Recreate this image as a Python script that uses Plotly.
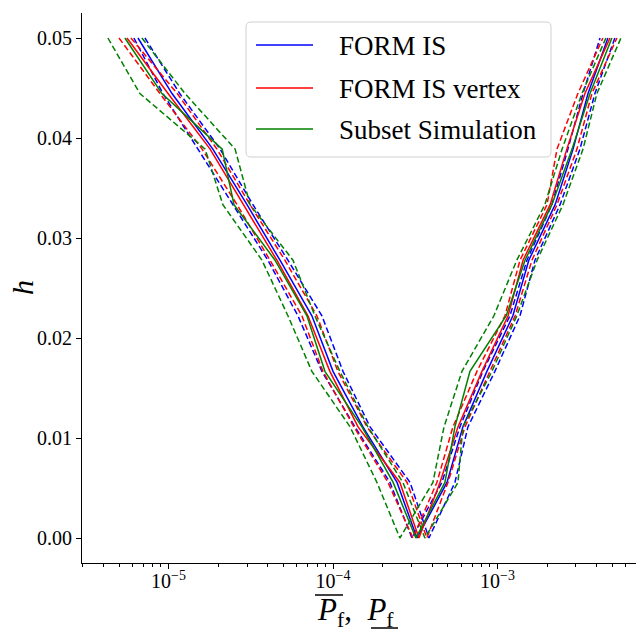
import plotly.graph_objects as go

# h levels (y axis)
H = [0.0, 0.005556, 0.011111, 0.016667, 0.022222, 0.027778, 0.033333, 0.038889, 0.044444, 0.05]

# FORM IS (blue): lower bound Pf (left branch) and upper bound Pf (right branch)
FIS_MEAN_LO = [3.24e-4, 2.45e-4, 1.52e-4, 1.00e-4, 7.44e-5, 4.76e-5, 3.00e-5, 1.86e-5, 1.05e-5, 6.52e-6]
FIS_MEAN_UP = [3.24e-4, 4.93e-4, 6.16e-4, 8.62e-4, 1.24e-3, 1.55e-3, 2.24e-3, 2.88e-3, 3.55e-3, 4.69e-3]
FIS_CIA_LO = [3.02e-4, 2.22e-4, 1.36e-4, 8.56e-5, 6.12e-5, 4.02e-5, 2.47e-5, 1.51e-5, 9.25e-6, 6.16e-6]
FIS_CIA_UP = [3.02e-4, 4.59e-4, 5.91e-4, 8.15e-4, 1.19e-3, 1.51e-3, 2.14e-3, 2.68e-3, 3.31e-3, 4.20e-3]
FIS_CIB_LO = [3.83e-4, 2.94e-4, 1.68e-4, 1.15e-4, 8.56e-5, 5.32e-5, 3.26e-5, 2.06e-5, 1.17e-5, 7.19e-6]
FIS_CIB_UP = [3.83e-4, 5.51e-4, 6.61e-4, 9.64e-4, 1.37e-3, 1.69e-3, 2.40e-3, 3.17e-3, 3.91e-3, 5.17e-3]

# FORM IS vertex (red)
VTX_MEAN_LO = [3.33e-4, 2.55e-4, 1.42e-4, 9.57e-5, 7.04e-5, 4.56e-5, 2.84e-5, 1.79e-5, 9.93e-6, 5.59e-6]
VTX_MEAN_UP = [3.33e-4, 4.47e-4, 5.75e-4, 8.04e-4, 1.16e-3, 1.43e-3, 2.09e-3, 2.64e-3, 3.40e-3, 4.83e-3]
VTX_CIA_LO = [3.06e-4, 2.16e-4, 1.34e-4, 8.68e-5, 6.47e-5, 4.14e-5, 2.61e-5, 1.60e-5, 8.87e-6, 5.00e-6]
VTX_CIA_UP = [3.06e-4, 4.28e-4, 5.36e-4, 7.50e-4, 1.11e-3, 1.37e-3, 2.00e-3, 2.30e-3, 3.08e-3, 4.37e-3]
VTX_CIB_LO = [3.72e-4, 2.82e-4, 1.61e-4, 1.07e-4, 7.98e-5, 5.10e-5, 3.13e-5, 1.97e-5, 1.13e-5, 5.91e-6]
VTX_CIB_UP = [3.72e-4, 5.00e-4, 6.34e-4, 8.99e-4, 1.28e-3, 1.62e-3, 2.30e-3, 3.04e-3, 3.75e-3, 5.32e-3]

# Subset Simulation (green)
SS_MEAN_LO = [3.19e-4, 2.32e-4, 1.50e-4, 8.93e-5, 6.94e-5, 4.44e-5, 2.50e-5, 2.12e-5, 9.12e-6, 5.43e-6]
SS_MEAN_UP = [3.19e-4, 4.79e-4, 5.51e-4, 6.80e-4, 1.13e-3, 1.47e-3, 2.14e-3, 2.84e-3, 3.65e-3, 4.96e-3]
SS_CIA_LO = [2.55e-4, 1.85e-4, 1.27e-4, 7.44e-5, 5.32e-5, 3.70e-5, 2.14e-5, 1.67e-5, 6.70e-6, 4.28e-6]
SS_CIA_UP = [2.55e-4, 4.05e-4, 4.73e-4, 6.08e-4, 9.51e-4, 1.31e-3, 1.94e-3, 2.47e-3, 3.26e-3, 4.56e-3]
SS_CIB_LO = [3.62e-4, 2.66e-4, 1.63e-4, 1.10e-4, 7.76e-5, 5.71e-5, 3.13e-5, 2.54e-5, 1.26e-5, 6.89e-6]
SS_CIB_UP = [3.62e-4, 5.75e-4, 6.16e-4, 9.25e-4, 1.31e-3, 1.74e-3, 2.50e-3, 3.31e-3, 4.02e-3, 5.63e-3]

SERIES = [
    ("FORM IS", "#0000ff", FIS_MEAN_LO, FIS_MEAN_UP, [(FIS_CIA_LO, FIS_CIA_UP), (FIS_CIB_LO, FIS_CIB_UP)]),
    ("FORM IS vertex", "#ff0000", VTX_MEAN_LO, VTX_MEAN_UP, [(VTX_CIA_LO, VTX_CIA_UP), (VTX_CIB_LO, VTX_CIB_UP)]),
    ("Subset Simulation", "#008000", SS_MEAN_LO, SS_MEAN_UP, [(SS_CIA_LO, SS_CIA_UP), (SS_CIB_LO, SS_CIB_UP)]),
]

SERIF = "Liberation Serif"

def vee(lo, up):
    return list(lo[::-1]) + list(up[1:]), list(H[::-1]) + list(H[1:])

fig = go.Figure()
for name, color, mlo, mup, cis in SERIES:
    x, y = vee(mlo, mup)
    fig.add_trace(go.Scatter(x=x, y=y, mode="lines", name=name,
                             line=dict(color=color, width=1.5), showlegend=False))
    for lo, up in cis:
        x, y = vee(lo, up)
        fig.add_trace(go.Scatter(x=x, y=y, mode="lines", name=name + " bounds",
                                 line=dict(color=color, width=1.5, dash="6px,3px"),
                                 showlegend=False))

minor_vals = [k * 10.0 ** e for e in range(-7, -1) for k in range(2, 10)]

fig.update_layout(
    width=636, height=631,
    margin=dict(l=82, r=0, t=13, b=68),
    plot_bgcolor="white", paper_bgcolor="white",
    font=dict(family=SERIF, color="black"),
    xaxis=dict(type="log", range=[-5.526, -2.158], showline=True, linecolor="black",
               linewidth=1, ticks="outside", ticklen=5, tickcolor="black",
               tickvals=[1e-5, 1e-4, 1e-3],
               ticktext=["10<sup>\u22125</sup>", "10<sup>\u22124</sup>", "10<sup>\u22123</sup>"],
               tickfont=dict(family=SERIF, size=20, color="black"),
               ticklabelstandoff=-5,
               showgrid=False, zeroline=False,
               minor=dict(tickvals=minor_vals, ticks="outside", ticklen=3, tickcolor="black")),
    yaxis=dict(range=[-0.0025, 0.0525], showline=True, linecolor="black", linewidth=1,
               ticks="outside", ticklen=5, tickcolor="black",
               tickvals=[0, 0.01, 0.02, 0.03, 0.04, 0.05], tickformat=".2f",
               tickfont=dict(family=SERIF, size=20, color="black"),
               showgrid=False, zeroline=False),
)

# helpers: page pixel -> paper coordinates (plot area x 82..636, y 13..563)
def px_x(px):
    return (px - 82) / 554.0

def px_y(py):
    return (563 - py) / 550.0

fig.add_annotation(text="<i>h</i>", x=px_x(22), y=0.5, xref="paper", yref="paper",
                   xanchor="center", yanchor="middle",
                   textangle=-90, showarrow=False, font=dict(family=SERIF, size=30, color="black"))
fig.add_annotation(text="<i>P</i><sub>f</sub>,\u2002<i>P</i><sub>f</sub>", x=px_x(355), y=px_y(612),
                   xref="paper", yref="paper", showarrow=False, xanchor="center", yanchor="middle",
                   font=dict(family=SERIF, size=31, color="black"))
fig.add_shape(type="line", xref="paper", yref="paper", x0=px_x(315), x1=px_x(343),
              y0=px_y(595), y1=px_y(595), line=dict(color="black", width=1.5))
fig.add_shape(type="line", xref="paper", yref="paper", x0=px_x(371), x1=px_x(398),
              y0=px_y(628), y1=px_y(628), line=dict(color="black", width=1.5))

# legend box
x0, x1, yt, yb = px_x(246), px_x(551), px_y(22), px_y(157)
rx, ry = 5 / 554.0, 5 / 550.0
path = (f"M {x0+rx},{yt} L {x1-rx},{yt} Q {x1},{yt} {x1},{yt-ry} L {x1},{yb+ry} "
        f"Q {x1},{yb} {x1-rx},{yb} L {x0+rx},{yb} Q {x0},{yb} {x0},{yb+ry} "
        f"L {x0},{yt-ry} Q {x0},{yt} {x0+rx},{yt} Z")
fig.add_shape(type="path", path=path, xref="paper", yref="paper",
              line=dict(color="#d0d0d0", width=1), fillcolor="rgba(255,255,255,0.85)")
for (name, color, *_), ly in zip(SERIES, [45, 88, 129]):
    fig.add_shape(type="line", xref="paper", yref="paper", x0=px_x(256), x1=px_x(313),
                  y0=px_y(ly), y1=px_y(ly), line=dict(color=color, width=1.5))
    fig.add_annotation(text=name, x=px_x(337), y=px_y(ly + 1), xref="paper", yref="paper",
                       showarrow=False, xanchor="left", yanchor="middle",
                       font=dict(family=SERIF, size=27, color="black"))

fig.write_html("out.html", config={"displayModeBar": False},
               post_script="document.body.style.margin='0';")
